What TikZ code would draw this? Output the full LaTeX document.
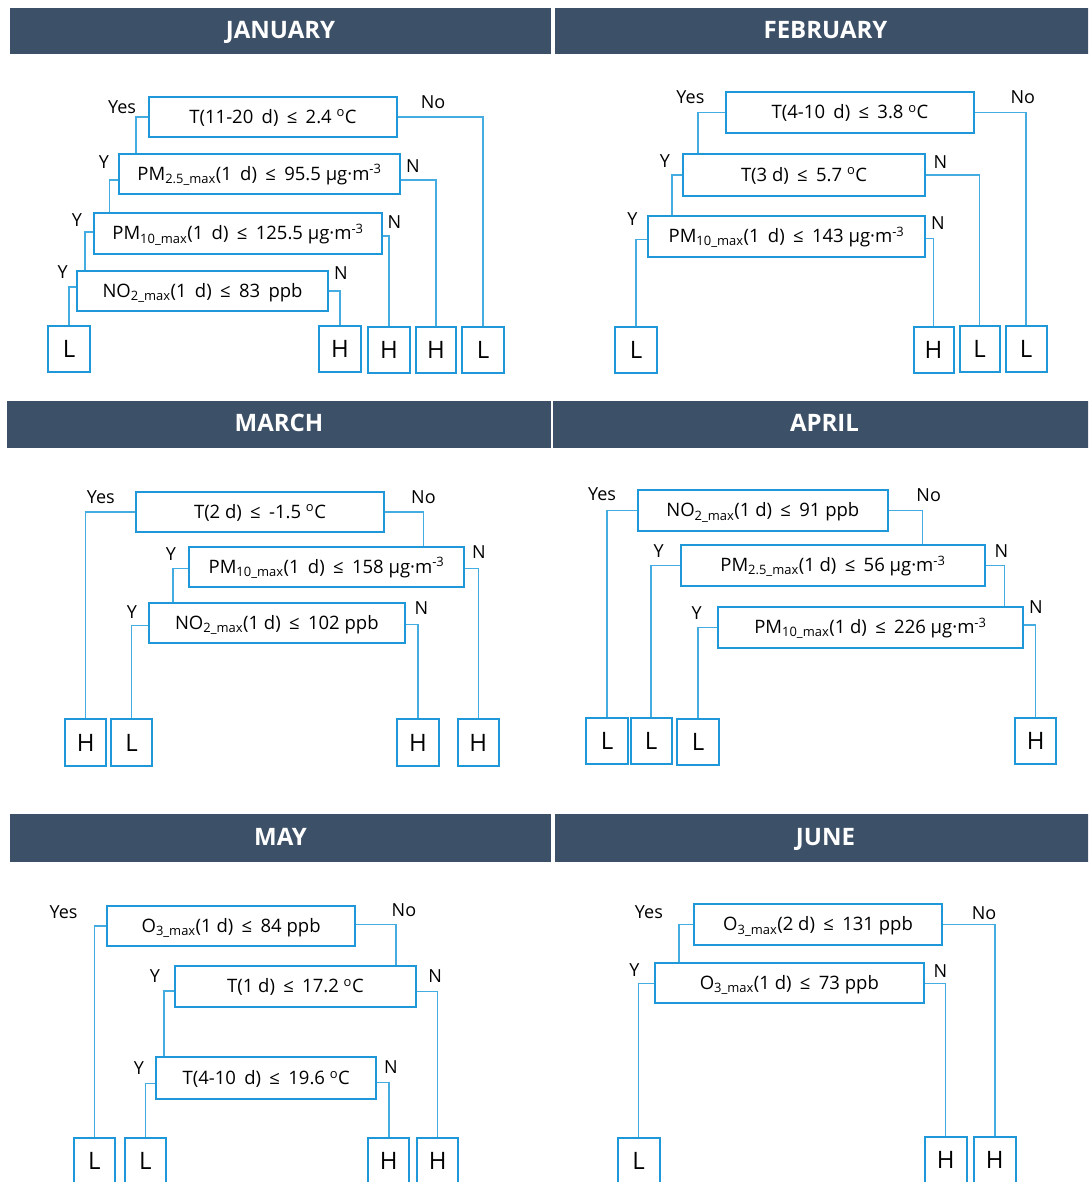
\documentclass[tikz,border=0pt]{standalone}
\usepackage{fontspec}
\setmainfont{Open Sans}
\definecolor{hdr}{HTML}{3C5068}
\definecolor{bx}{HTML}{1E98D8}
\definecolor{ln}{HTML}{45ACE2}
\newcommand{\lo}[1]{\textsubscript{#1}}
\newcommand{\hi}[1]{\textsuperscript{#1}}
\newcommand{\gp}{\hspace{0.45em}}
\begin{document}
\begin{tikzpicture}[x=1pt,y=-1pt,
 hdrbox/.style={fill=hdr, text=white, font=\fontsize{24}{28}\selectfont\bfseries, inner sep=0, minimum height=46pt, text height=15pt, text depth=-2pt},
 cond/.style={draw=bx, line width=2pt, fill=white, font=\fontsize{18.5}{22}\selectfont, inner sep=0, minimum height=40pt, text height=16pt, text depth=3.5pt},
 leaf/.style={draw=bx, line width=2pt, fill=white, font=\fontsize{24}{28}\selectfont, inner sep=0, minimum width=42pt, minimum height=46pt},
 lbl/.style={font=\fontsize{18}{22}\selectfont, inner sep=0},
 conn/.style={draw=ln, line width=1.4pt}]
\useasboundingbox (0,0) rectangle (1088,1182);
\clip (0,0) rectangle (1088,1182);

% ---------------- headers
\node[hdrbox, minimum width=541pt] (hJan) at (280.5,31) {JANUARY};
\node[hdrbox, minimum width=541pt] (hFeb) at (825.5,31) {FEBRUARY};
\node[hdrbox, minimum width=544pt, minimum height=47pt] (hMar) at (279,424) {MARCH};
\node[hdrbox, minimum width=543pt, minimum height=47pt] (hApr) at (824.5,424) {APRIL};
\node[hdrbox, minimum width=541pt, minimum height=48pt] (hMay) at (280.5,838) {MAY};
\node[hdrbox, minimum width=541pt, minimum height=48pt] (hJun) at (825.5,838) {JUNE};

% ---------------- JANUARY
\node[cond, minimum width=248pt] (j1) at (273,117) {T(11-20\gp d)\gp≤\gp 2.4 \hi{o}C};
\node[cond, minimum width=281pt] (j2) at (259.5,174) {PM\lo{2.5\_max}(1\gp d)\gp≤\gp 95.5 μg·m\hi{-3}};
\node[cond, minimum width=288pt, minimum height=41pt] (j3) at (238,233.5) {PM\lo{10\_max}(1\gp d)\gp≤\gp 125.5 μg·m\hi{-3}};
\node[cond, minimum width=251pt] (j4) at (202.5,291) {NO\lo{2\_max}(1\gp d)\gp≤\gp 83\gp ppb};
\node[leaf] (jL1) at (69,349) {L};
\node[leaf] (jH1) at (340,349) {H};
\node[leaf] (jH2) at (389,350) {H};
\node[leaf, minimum width=40pt] (jH3) at (436,350) {H};
\node[leaf] (jL2) at (483,350) {L};
\draw[conn] (j1.west) -| ([xshift=18pt]j2.north west);
\draw[conn] (j1.east) -| (jL2.north);
\draw[conn] ([yshift=-6pt]j2.west) -| ([xshift=16.5pt]j3.north west);
\draw[conn] ([yshift=-6pt]j2.east) -| (jH3.north);
\draw[conn] ([yshift=1.5pt]j3.west) -| ([xshift=9pt]j4.north west);
\draw[conn] ([yshift=-2.5pt]j3.east) -| (jH2.north);
\draw[conn] ([yshift=4pt]j4.west) -| (jL1.north);
\draw[conn] (j4.east) -| (jH1.north);
\node[lbl] (jy1) at (122,107) {Yes};
\node[lbl] (jn1) at (433,102) {No};
\node[lbl] (jy2) at (104,162) {Y};
\node[lbl] (jn2) at (413,166) {N};
\node[lbl] (jy3) at (77,220) {Y};
\node[lbl] (jn3) at (394.5,222) {N};
\node[lbl] (jy4) at (62.6,272) {Y};
\node[lbl] (jn4) at (341,273) {N};

% ---------------- FEBRUARY
\node[cond, minimum width=248.7pt, minimum height=40.7pt] (f1) at (850,112.7) {T(4-10\gp d)\gp≤\gp 3.8 \hi{o}C};
\node[cond, minimum width=242.4pt, minimum height=42pt] (f2) at (804,175) {T(3 d)\gp≤\gp 5.7 \hi{o}C};
\node[cond, minimum width=277.4pt, minimum height=40.7pt] (f3) at (786.5,236.3) {PM\lo{10\_max}(1\gp d)\gp≤\gp 143 μg·m\hi{-3}};
\node[leaf] (fL1) at (636,350) {L};
\node[leaf, minimum width=40pt] (fH) at (933.5,350) {H};
\node[leaf, minimum width=40pt] (fL2) at (979.5,349) {L};
\node[leaf, minimum width=41pt] (fL3) at (1026,349) {L};
\draw[conn] (f1.west) -| ([xshift=16.2pt]f2.north west);
\draw[conn] (f1.east) -| (fL3.north);
\draw[conn] (f2.west) -| ([xshift=25.2pt]f3.north west);
\draw[conn] (f2.east) -| (fL2.north);
\draw[conn] ([yshift=-3pt]f3.west) -| (fL1.north);
\draw[conn] ([yshift=-2.5pt]f3.east) -| (fH.north);
\node[lbl] (fy1) at (690.4,96.7) {Yes};
\node[lbl] (fn1) at (1022.8,96.7) {No};
\node[lbl] (fy2) at (665,160.7) {Y};
\node[lbl] (fn2) at (940.4,161.7) {N};
\node[lbl] (fy3) at (632.3,219.3) {Y};
\node[lbl] (fn3) at (938,223.3) {N};

% ---------------- MARCH
\node[cond, minimum width=248.8pt, minimum height=40.3pt] (m1) at (260,511.8) {T(2 d)\gp≤\gp -1.5 \hi{o}C};
\node[cond, minimum width=274.3pt, minimum height=40.6pt] (m2) at (326.5,567) {PM\lo{10\_max}(1\gp d)\gp≤\gp 158 μg·m\hi{-3}};
\node[cond, minimum width=255.6pt, minimum height=40.3pt] (m3) at (276.8,623.2) {NO\lo{2\_max}(1 d)\gp≤\gp 102 ppb};
\node[leaf, minimum width=41pt, minimum height=47pt] (mH1) at (85.7,742.5) {H};
\node[leaf, minimum width=41pt, minimum height=47pt] (mL) at (131.7,742.5) {L};
\node[leaf, minimum width=42pt, minimum height=47pt] (mH2) at (418,742.5) {H};
\node[leaf, minimum width=41pt, minimum height=47pt] (mH3) at (478.3,742.5) {H};
\draw[conn] (m1.west) -| (mH1.north);
\draw[conn] (m1.east) -| ([xshift=235.3pt]m2.north west);
\draw[conn] ([yshift=-1.3pt]m2.west) -| ([xshift=24.8pt]m3.north west);
\draw[conn] ([yshift=-1.3pt]m2.east) -| (mH3.north);
\draw[conn] ([yshift=-2.5pt]m3.west) -| (mL.north);
\draw[conn] ([yshift=-1.1pt]m3.east) -| (mH2.north);
\node[lbl] (my1) at (100.8,496.7) {Yes};
\node[lbl] (mn1) at (423.4,496.7) {No};
\node[lbl] (my2) at (171,554.3) {Y};
\node[lbl] (mn2) at (479,552.3) {N};
\node[lbl] (my3) at (132,612.3) {Y};
\node[lbl] (mn3) at (421.3,608.3) {N};

% ---------------- APRIL
\node[cond, minimum width=250pt, minimum height=40.7pt] (a1) at (762.8,510.7) {NO\lo{2\_max}(1 d)\gp≤\gp 91 ppb};
\node[cond, minimum width=303.8pt, minimum height=40.7pt] (a2) at (832.9,565.3) {PM\lo{2.5\_max}(1 d)\gp≤\gp 56 μg·m\hi{-3}};
\node[cond, minimum width=304.8pt, minimum height=40.7pt] (a3) at (870.4,627.3) {PM\lo{10\_max}(1 d)\gp≤\gp 226 μg·m\hi{-3}};
\node[leaf] (aL1) at (607,741) {L};
\node[leaf, minimum width=41pt] (aL2) at (651,741) {L};
\node[leaf] (aL3) at (698,741.5) {L};
\node[leaf, minimum width=41pt] (aH) at (1035.6,741) {H};
\draw[conn] (a1.west) -| (aL1.north);
\draw[conn] (a1.east) -| ([xshift=242.5pt]a2.north west);
\draw[conn] (a2.west) -| (aL2.north);
\draw[conn] (a2.east) -| ([xshift=287.5pt]a3.north west);
\draw[conn] (a3.west) -| (aL3.north);
\draw[conn] ([yshift=2.3pt]a3.east) -| (aH.north);
\node[lbl] (ay1) at (602.1,494) {Yes};
\node[lbl] (an1) at (928.7,495) {No};
\node[lbl] (ay2) at (658.6,551) {Y};
\node[lbl] (an2) at (1001.4,551) {N};
\node[lbl] (ay3) at (696.7,613.3) {Y};
\node[lbl] (an3) at (1036,606.7) {N};

% ---------------- MAY
\node[cond, minimum width=248.2pt, minimum height=40.3pt] (y1) at (231.1,925.9) {O\lo{3\_max}(1 d)\gp≤\gp 84 ppb};
\node[cond, minimum width=241.2pt, minimum height=41pt] (y2) at (295.4,986.2) {T(1 d)\gp≤\gp 17.2 \hi{o}C};
\node[cond, minimum width=219.6pt, minimum height=41.7pt] (y3) at (266.2,1078.2) {T(4-10\gp d)\gp≤\gp 19.6 \hi{o}C};
\node[leaf, minimum width=41pt] (yL1) at (94.4,1161) {L};
\node[leaf, minimum width=41pt] (yL2) at (145.3,1161) {L};
\node[leaf, minimum width=41pt] (yH1) at (388.8,1160.5) {H};
\node[leaf, minimum width=41pt] (yH2) at (437.6,1160.5) {H};
\draw[conn] (y1.west) -| (yL1.north);
\draw[conn] ([yshift=1.2pt]y1.east) -| ([xshift=222.2pt]y2.north west);
\draw[conn] ([yshift=-4.8pt]y2.west) -| ([xshift=8.4pt]y3.north west);
\draw[conn] ([yshift=-5.5pt]y2.east) -| (yH2.north);
\draw[conn] ([yshift=-5pt]y3.west) -| (yL2.north);
\draw[conn] ([yshift=-4.5pt]y3.east) -| (yH1.north);
\node[lbl] (yy1) at (63.6,911.7) {Yes};
\node[lbl] (yn1) at (403.9,910) {No};
\node[lbl] (yy2) at (155,975.7) {Y};
\node[lbl] (yn2) at (435.2,975.7) {N};
\node[lbl] (yy3) at (139,1068.3) {Y};
\node[lbl] (yn3) at (391,1067.3) {N};

% ---------------- JUNE
\node[cond, minimum width=248.3pt, minimum height=40.4pt] (u1) at (818,924.5) {O\lo{3\_max}(2 d)\gp≤\gp 131 ppb};
\node[cond, minimum width=268.4pt, minimum height=40pt] (u2) at (789.3,983.3) {O\lo{3\_max}(1 d)\gp≤\gp 73 ppb};
\node[leaf, minimum width=42pt] (uL) at (638.6,1160.5) {L};
\node[leaf, minimum width=42pt] (uH1) at (945.7,1160) {H};
\node[leaf, minimum width=42pt] (uH2) at (994.8,1160) {H};
\draw[conn] (u1.west) -| ([xshift=24.9pt]u2.north west);
\draw[conn] (u1.east) -| (uH2.north);
\draw[conn] (u2.west) -| (uL.north);
\draw[conn] (u2.east) -| (uH1.north);
\node[lbl] (uy1) at (648.9,911.7) {Yes};
\node[lbl] (un1) at (984,912.7) {No};
\node[lbl] (uy2) at (634.3,970) {Y};
\node[lbl] (un2) at (940.4,970.7) {N};
\end{tikzpicture}
\end{document}
